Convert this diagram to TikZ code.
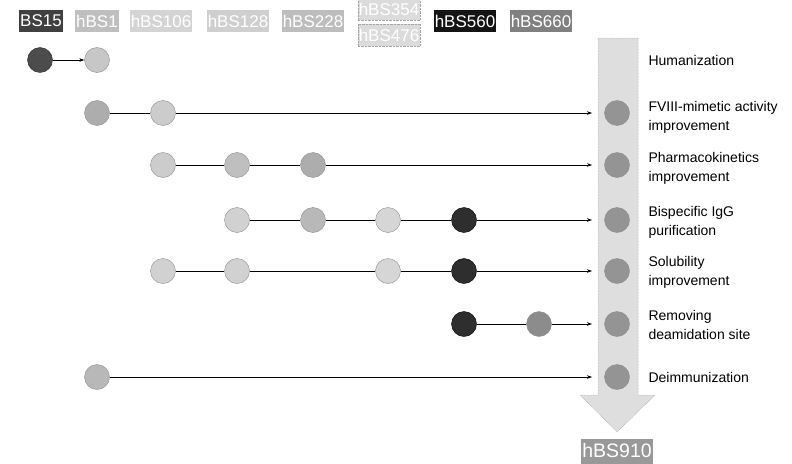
\documentclass[tikz,border=0pt]{standalone}
\usepackage{fontspec}
\setmainfont{Liberation Sans}
\usetikzlibrary{arrows.meta}
\begin{document}
\begin{tikzpicture}[x=1pt,y=-1pt,
  tag/.style={rectangle,inner xsep=1pt,inner ysep=0pt,minimum height=22pt,text=white,font=\fontsize{17}{18}\selectfont,anchor=center},
  dot/.style={circle,minimum size=25pt,inner sep=0pt,draw=black!45,line width=0.4pt},
  link/.style={line width=0.6pt,black},
  lnk/.style={link,-{Stealth[length=5pt,width=3.5pt]}},
  rowlab/.style={anchor=west,align=left,font=\fontsize{14}{19}\selectfont}]
\useasboundingbox (0,0) rectangle (792,463);
% big arrow
\path[fill=black!13,draw=black!40,densely dotted,line width=0.5pt]
  (598,38) -- (638,38) -- (638,395) -- (655,395) -- (617,432) -- (580,395) -- (598,395) -- cycle;
% top labels
\node[tag,fill=black!75] (tBS15) at (41,21) {BS15};
\node[tag,fill=black!25] (thBS1) at (97,21) {hBS1};
\node[tag,fill=black!17] (thBS106) at (161,21) {hBS106};
\node[tag,fill=black!19] (thBS128) at (238,21) {hBS128};
\node[tag,fill=black!26] (thBS228) at (313,21) {hBS228};
\node[tag,fill=black!14,draw=black!35,densely dotted] (thBSa) at (389,9) {hBS354};
\node[tag,fill=black!14,draw=black!35,densely dotted] (thBSb) at (389,35) {hBS476};
\node[tag,fill=black!92] (thBS560) at (465,21) {hBS560};
\node[tag,fill=black!50] (thBS660) at (541,21) {hBS660};
\node[tag,fill=black!40,minimum height=25pt,font=\fontsize{19.5}{20}\selectfont] (thBS910) at (617,451) {hBS910};
% row labels
\node[rowlab] (l1) at (645,60) {Humanization};
\node[rowlab] (l2) at (645,117) {FVIII-mimetic activity\\improvement};
\node[rowlab] (l3) at (645,168) {Pharmacokinetics\\improvement};
\node[rowlab] (l4) at (645,222) {Bispecific IgG\\purification};
\node[rowlab] (l5) at (645,272) {Solubility\\improvement};
\node[rowlab] (l6) at (645,325) {Removing\\deamidation site};
\node[rowlab] (l7) at (645,377) {Deimmunization};
% final column circles
\foreach \r/\y in {2/113,3/165,4/220,5/271,6/324,7/377}
  \node[dot,fill=black!42] (f\r) at (617,\y) {};
% row 1
\node[dot,fill=black!70,draw=black!85] (a1) at (40,60) {};
\node[dot,fill=black!22] (a2) at (97,60) {};
\draw[lnk] (a1) -- (a2);
% row 2
\node[dot,fill=black!32] (b1) at (97,113) {};
\node[dot,fill=black!20] (b2) at (163,113) {};
\coordinate (be) at (592,113);
\draw[link] (b1) -- (b2);
\draw[lnk] (b2) -- (be);
% row 3
\node[dot,fill=black!20] (c1) at (163,165) {};
\node[dot,fill=black!25] (c2) at (237,165) {};
\node[dot,fill=black!32] (c3) at (313,165) {};
\coordinate (ce) at (592,165);
\draw[link] (c1) -- (c2);
\draw[link] (c2) -- (c3);
\draw[lnk] (c3) -- (ce);
% row 4
\node[dot,fill=black!18] (d1) at (237,220) {};
\node[dot,fill=black!28] (d2) at (313,220) {};
\node[dot,fill=black!16] (d3) at (388,220) {};
\node[dot,fill=black!82,draw=black] (d4) at (464,220) {};
\coordinate (de) at (592,220);
\draw[link] (d1) -- (d2);
\draw[link] (d2) -- (d3);
\draw[link] (d3) -- (d4);
\draw[lnk] (d4) -- (de);
% row 5
\node[dot,fill=black!18] (e1) at (163,271) {};
\node[dot,fill=black!18] (e2) at (237,271) {};
\node[dot,fill=black!16] (e3) at (388,271) {};
\node[dot,fill=black!82,draw=black] (e4) at (464,271) {};
\coordinate (ee) at (592,271);
\draw[link] (e1) -- (e2);
\draw[link] (e2) -- (e3);
\draw[link] (e3) -- (e4);
\draw[lnk] (e4) -- (ee);
% row 6
\node[dot,fill=black!82,draw=black] (g1) at (464,324) {};
\node[dot,fill=black!45] (g2) at (539,324) {};
\coordinate (ge) at (592,324);
\draw[link] (g1) -- (g2);
\draw[lnk] (g2) -- (ge);
% row 7
\node[dot,fill=black!28] (h1) at (97,377) {};
\coordinate (he) at (592,377);
\draw[lnk] (h1) -- (he);
\end{tikzpicture}
\end{document}
